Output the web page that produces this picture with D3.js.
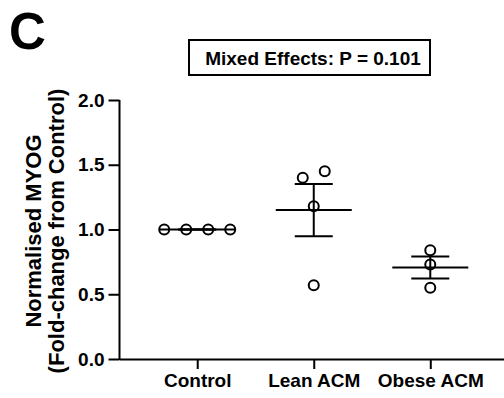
<!DOCTYPE html>
<html>
<head>
<meta charset="utf-8">
<script src="https://cdn.jsdelivr.net/npm/d3@7"></script>
<style>
  body { margin: 0; background: #fff; }
  svg { display: block; }
  text { font-family: "Liberation Sans", Arial, Helvetica, sans-serif; font-weight: bold; fill: #000; }
</style>
</head>
<body>
<svg id="chart" width="504" height="398"></svg>
<script>
// Groups and per-sample normalised MYOG values
const categories = ["Control", "Lean ACM", "Obese ACM"];
const controlValues = [1.00, 1.00, 1.00, 1.00];
const leanValues = [1.40, 1.45, 1.18, 0.57];
const obeseValues = [0.84, 0.73, 0.55];
const yTicks = [0.0, 0.5, 1.0, 1.5, 2.0];
const panelLabel = "C";
const statsLabel = "Mixed Effects: P = 0.101";
const yLabelLines = ["Normalised MYOG", "(Fold-change from Control)"];

const groupValues = [controlValues, leanValues, obeseValues];

const svg = d3.select("#chart");
const ink = "#000";

// Scales
const y = d3.scaleLinear().domain([0, 2]).range([359, 100]);
const x = d3.scalePoint().domain(categories).range([119.5, 508]).padding(0.667);

// Axes
const yAxis = svg.append("g")
  .attr("transform", "translate(119.5,0)")
  .call(d3.axisLeft(y).tickValues(yTicks).tickFormat(d3.format(".1f")).tickSize(11).tickSizeOuter(0).tickPadding(4));
const xAxis = svg.append("g")
  .attr("transform", "translate(0,359)")
  .call(d3.axisBottom(x).tickSize(10).tickSizeOuter(0).tickPadding(5));

[yAxis, xAxis].forEach(g => {
  g.selectAll("path.domain").attr("stroke", ink).attr("stroke-width", 2);
  g.selectAll(".tick line").attr("stroke", ink).attr("stroke-width", 2);
  g.selectAll(".tick text").attr("font-size", 19).attr("font-family", null).attr("fill", ink);
});
// extend the y axis line to meet the x axis cleanly
yAxis.select("path.domain").attr("d", `M0,${y(2)}V${y(0) + 1}`);

// Y-axis title (two lines)
const yTitle = svg.append("text")
  .attr("transform", "translate(0,231) rotate(-90)")
  .attr("text-anchor", "middle")
  .attr("font-size", 22);
yTitle.selectAll("tspan").data(yLabelLines).join("tspan")
  .attr("x", 0)
  .attr("y", (d, i) => 41 + i * 23)
  .text(d => d);

// Panel letter
svg.append("text").attr("x", 9).attr("y", 49).attr("font-size", 51).text(panelLabel);

// Statistics box
svg.append("rect").attr("x", 189).attr("y", 40).attr("width", 241).attr("height", 35)
  .attr("fill", "none").attr("stroke", ink).attr("stroke-width", 2);
svg.append("text").attr("x", 313).attr("y", 65).attr("text-anchor", "middle")
  .attr("font-size", 19).text(statsLabel);

// Horizontal spread for points that would overlap (simple swarm)
const diameter = 12, spacing = 22;
function swarmOffsets(values) {
  const order = d3.range(values.length).sort((a, b) => d3.ascending(values[a], values[b]));
  const clusters = [];
  order.forEach(i => {
    const last = clusters[clusters.length - 1];
    if (last && Math.abs(y(values[last[last.length - 1]]) - y(values[i])) < diameter) last.push(i);
    else clusters.push([i]);
  });
  const offs = new Array(values.length).fill(0);
  clusters.forEach(c => c.forEach((i, k) => { offs[i] = (k - (c.length - 1) / 2) * spacing; }));
  return offs;
}

// Mean ± SEM and individual points
categories.forEach((cat, gi) => {
  const vals = groupValues[gi];
  const cx = x(cat);
  const m = d3.mean(vals);
  const sem = (d3.deviation(vals) || 0) / Math.sqrt(vals.length);
  const g = svg.append("g").attr("stroke", ink).attr("stroke-width", 2).attr("fill", "none");

  g.append("line").attr("x1", cx).attr("x2", cx).attr("y1", y(m + sem)).attr("y2", y(m - sem));
  [m + sem, m - sem].forEach(v => g.append("line")
    .attr("x1", cx - 19).attr("x2", cx + 19).attr("y1", y(v)).attr("y2", y(v)));
  g.append("line").attr("x1", cx - 38).attr("x2", cx + 38).attr("y1", y(m)).attr("y2", y(m));

  const offs = swarmOffsets(vals);
  g.selectAll("circle").data(vals).join("circle")
    .attr("cx", (d, i) => cx + offs[i])
    .attr("cy", d => y(d))
    .attr("r", 5);
});
</script>
</body>
</html>
